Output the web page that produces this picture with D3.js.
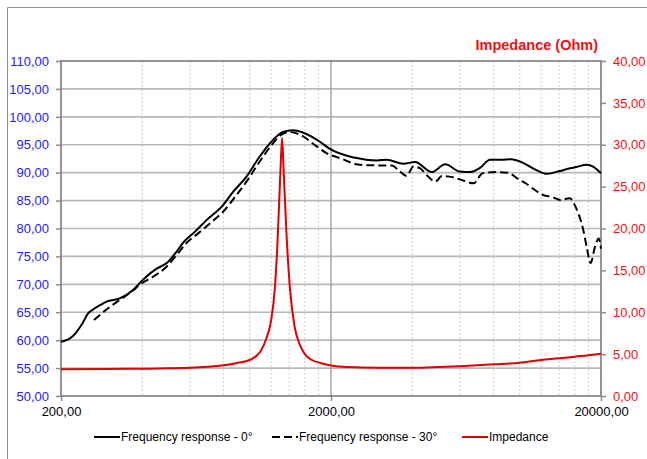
<!DOCTYPE html>
<html>
<head>
<meta charset="utf-8">
<script src="https://cdn.jsdelivr.net/npm/d3@7"></script>
<style>
  body { margin: 0; background: #fff; }
  svg text { font-family: "Liberation Sans", Arial, sans-serif; }
</style>
</head>
<body>
<div id="chart"></div>
<script>
// tick values
var xTicks = [200, 2000, 20000];
var xMinor = [400, 600, 800, 1000, 1200, 1400, 1600, 1800, 4000, 6000, 8000, 10000, 12000, 14000, 16000, 18000];
var splTicks = [50, 55, 60, 65, 70, 75, 80, 85, 90, 95, 100, 105, 110];
var ohmTicks = [0, 5, 10, 15, 20, 25, 30, 35, 40];

// frequency response 0 deg
var fr0Freq = [200, 222, 240, 252, 263, 280, 295, 330, 370, 402, 452, 493, 537, 568, 626, 692, 797, 869, 973, 1089, 1222, 1330, 1446, 1573, 1825, 1974, 2430, 2960, 3220, 3700, 4100, 4720, 5300, 6000, 6530, 7100, 7770, 8560, 9300, 10240, 11480, 12600, 14100, 15100, 16200, 17700, 18700, 20000];
var fr0Db = [59.7, 60.8, 63.0, 64.8, 65.5, 66.3, 66.9, 67.5, 69.0, 70.8, 72.8, 73.8, 75.9, 77.5, 79.4, 81.5, 84.2, 86.6, 89.3, 92.9, 95.9, 97.3, 97.6, 97.2, 95.5, 94.3, 92.7, 92.2, 92.3, 91.6, 91.9, 90.1, 91.5, 90.2, 90.1, 90.8, 92.3, 92.3, 92.4, 91.8, 90.5, 89.8, 90.3, 90.7, 91.0, 91.4, 91.1, 89.9];

// frequency response 30 deg
var fr30Freq = [265, 304, 330, 365, 398, 440, 493, 537, 583, 636, 712, 797, 893, 973, 1089, 1222, 1310, 1407, 1535, 1770, 1925, 2160, 2560, 3040, 3360, 3600, 3810, 4040, 4270, 4520, 4870, 5150, 5640, 6170, 6740, 7290, 8220, 9000, 9990, 10520, 11150, 12200, 13270, 14100, 15300, 16200, 17200, 17700, 18300, 19000, 19600, 20000];
var fr30Db = [63.6, 66.0, 67.2, 68.7, 70.2, 71.4, 73.2, 75.3, 77.4, 78.9, 80.9, 83.0, 86.0, 88.4, 92.0, 95.3, 96.8, 97.3, 96.8, 94.7, 93.5, 92.6, 91.4, 91.3, 91.3, 90.2, 89.4, 91.1, 90.8, 89.6, 88.4, 89.4, 89.2, 88.6, 88.1, 89.9, 90.1, 90.0, 88.7, 88.1, 87.2, 86.0, 85.6, 85.1, 85.4, 83.6, 79.7, 76.7, 73.8, 76.7, 78.2, 76.4];

// impedance
var impFreq = [200, 300, 400, 500, 600, 700, 800, 900, 1000, 1050, 1100, 1150, 1200, 1240, 1270, 1300, 1318, 1335, 1370, 1408, 1466, 1530, 1600, 1700, 1825, 2000, 2300, 3000, 4000, 5000, 6000, 8000, 10000, 12000, 14000, 16000, 18000, 20000];
var impOhm = [3.2, 3.22, 3.26, 3.3, 3.36, 3.48, 3.66, 3.95, 4.3, 4.7, 5.4, 6.8, 9.0, 13.0, 19.0, 27.0, 30.8, 27.0, 19.0, 13.0, 8.3, 6.2, 5.0, 4.3, 3.95, 3.65, 3.45, 3.36, 3.36, 3.45, 3.56, 3.78, 3.98, 4.3, 4.5, 4.7, 4.87, 5.05];

var W = 647, H = 459;
var margin = { top: 61, right: 46, bottom: 63, left: 61 };
var width = W - margin.left - margin.right,
    height = H - margin.top - margin.bottom;

var fmt = function (d) { return d.toFixed(2).replace('.', ','); };

var svg = d3.select("#chart")
    .append("svg")
    .attr("width", W)
    .attr("height", H);

// outer frame
svg.append("path")
    .attr("d", "M7.5," + H + "V7.5H" + W)
    .attr("fill", "none")
    .attr("stroke", "#8c8c8c")
    .attr("stroke-width", 1);

var g = svg.append("g")
    .attr("transform", "translate(" + margin.left + "," + margin.top + ")");

var x = d3.scaleLog()
    .domain([200, 20000])
    .range([0, width]);
var y = d3.scaleLinear()
    .domain([50, 110])
    .range([height, 0]);
var yR = d3.scaleLinear()
    .domain([0, 40])
    .range([height, 0]);

// minor vertical grid
g.append("g")
    .selectAll("line")
    .data(xMinor)
    .enter()
    .append("line")
    .attr("x1", function (d) { return x(d); })
    .attr("x2", function (d) { return x(d); })
    .attr("y1", 0)
    .attr("y2", height)
    .attr("stroke", "#cfcfcf")
    .attr("stroke-width", 1)
    .attr("stroke-dasharray", "2,2");

// horizontal grid
g.append("g")
    .selectAll("line")
    .data(splTicks.slice(1, -1))
    .enter()
    .append("line")
    .attr("x1", 0)
    .attr("x2", width)
    .attr("y1", function (d) { return y(d); })
    .attr("y2", function (d) { return y(d); })
    .attr("stroke", "#b8b8b8")
    .attr("stroke-width", 1.6);

// major vertical grid
g.append("g")
    .selectAll("line")
    .data([2000])
    .enter()
    .append("line")
    .attr("x1", function (d) { return x(d); })
    .attr("x2", function (d) { return x(d); })
    .attr("y1", 0)
    .attr("y2", height)
    .attr("stroke", "#a6a6a6")
    .attr("stroke-width", 1.5);

// plot border
g.append("rect")
    .attr("x", 0)
    .attr("y", 0)
    .attr("width", width)
    .attr("height", height)
    .attr("fill", "none")
    .attr("stroke", "#7a7a7a")
    .attr("stroke-width", 1.6);

// axes
var xAxis = g.append("g")
    .attr("transform", "translate(0," + height + ")")
    .call(d3.axisBottom(x).tickValues(xTicks).tickFormat(fmt).tickSize(5).tickPadding(6));
xAxis.selectAll("text").attr("fill", "#000").style("font-size", "13px");

var yAxis = g.append("g")
    .call(d3.axisLeft(y).tickValues(splTicks).tickFormat(fmt).tickSize(5).tickPadding(7));
yAxis.selectAll("text").attr("fill", "#2323f0").style("font-size", "13px");

var yRAxis = g.append("g")
    .attr("transform", "translate(" + width + ",0)")
    .call(d3.axisRight(yR).tickValues(ohmTicks).tickFormat(fmt).tickSize(5).tickPadding(7));
yRAxis.selectAll("text").attr("fill", "#f01010").style("font-size", "13px");

[xAxis, yAxis, yRAxis].forEach(function (a) {
    a.select(".domain").remove();
    a.selectAll(".tick line").attr("stroke", "#8c8c8c").attr("stroke-width", 1.5);
});

// lines
var line = d3.line()
    .x(function (d) { return x(d[0]); })
    .y(function (d) { return d[1]; })
    .curve(d3.curveMonotoneX);

var zipped = function (fs, vs, scale) {
    return fs.map(function (f, i) { return [f, scale(vs[i])]; });
};

g.append("path")
    .datum(zipped(impFreq, impOhm, yR))
    .attr("fill", "none")
    .attr("stroke", "#e00000")
    .attr("stroke-width", 2)
    .attr("d", line);

g.append("path")
    .datum(zipped(fr30Freq, fr30Db, y))
    .attr("fill", "none")
    .attr("stroke", "#000")
    .attr("stroke-width", 2)
    .attr("stroke-dasharray", "8,4")
    .attr("d", line);

g.append("path")
    .datum(zipped(fr0Freq, fr0Db, y))
    .attr("fill", "none")
    .attr("stroke", "#000")
    .attr("stroke-width", 2)
    .attr("d", line);

// right axis title
svg.append("text")
    .attr("x", 598)
    .attr("y", 50)
    .attr("text-anchor", "end")
    .attr("fill", "#f01010")
    .style("font-size", "14.5px")
    .style("font-weight", "bold")
    .text("Impedance (Ohm)");

// legend
var legend = [
    { name: "Frequency response - 0°", color: "#000", dash: null, x: 94 },
    { name: "Frequency response - 30°", color: "#000", dash: "8,4", x: 272 },
    { name: "Impedance", color: "#e00000", dash: null, x: 462 }
];
var lg = svg.append("g").attr("transform", "translate(0,437)");
lg.selectAll("line")
    .data(legend)
    .enter()
    .append("line")
    .attr("x1", function (d) { return d.x; })
    .attr("x2", function (d) { return d.x + 26; })
    .attr("y1", 0)
    .attr("y2", 0)
    .attr("stroke", function (d) { return d.color; })
    .attr("stroke-width", 2)
    .attr("stroke-dasharray", function (d) { return d.dash; });
lg.selectAll("text")
    .data(legend)
    .enter()
    .append("text")
    .attr("x", function (d) { return d.x + 27; })
    .attr("y", 4)
    .style("font-size", "12px")
    .attr("fill", "#000")
    .text(function (d) { return d.name; });
</script>
</body>
</html>
